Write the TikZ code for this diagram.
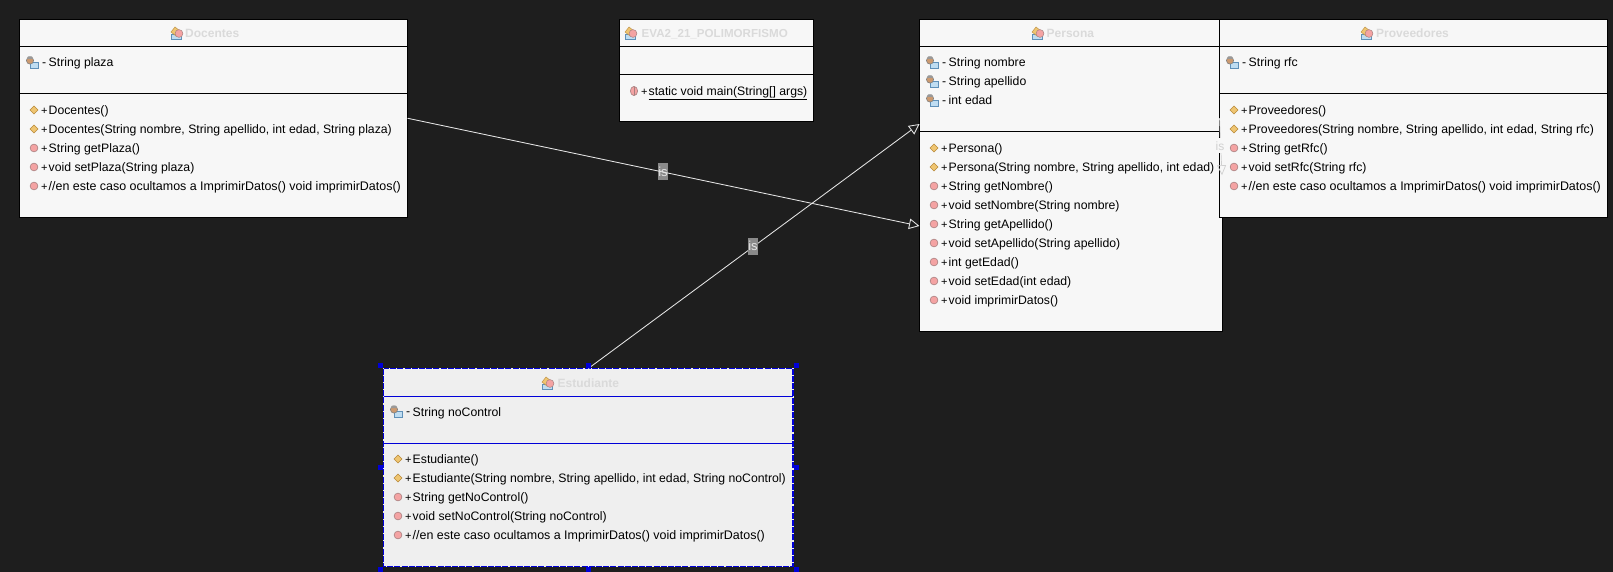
\documentclass[tikz,border=0pt]{standalone}
\usepackage{fontspec}
\setmainfont{Liberation Sans}
\usetikzlibrary{arrows.meta}
\definecolor{bgd}{HTML}{1E1E1E}
\definecolor{boxf}{HTML}{F7F7F7}
\definecolor{boxs}{HTML}{EFEFEF}
\definecolor{hdr}{HTML}{DADADA}
\definecolor{faint}{HTML}{D0D0D0}
\definecolor{sel}{HTML}{0000D8}
\definecolor{lbl}{HTML}{8A8A8A}
\definecolor{gold}{HTML}{EFC571}
\definecolor{goldd}{HTML}{B8893A}
\definecolor{pinkm}{HTML}{F4A3A3}
\definecolor{pinkd}{HTML}{A88080}
\definecolor{blueic}{HTML}{BFDDF2}
\definecolor{blued}{HTML}{5F90B8}
\definecolor{brownic}{HTML}{CC9A70}
\newcommand{\sgnp}{\makebox[7.5pt][l]{\fontsize{11}{14}\selectfont\raisebox{0.3pt}{+}}}
\newcommand{\sgnm}{\makebox[6.5pt][l]{\raisebox{0.4pt}{-}}}
\tikzset{
 x=1pt,y=-1pt,
 umlbox/.style={draw=black,fill=boxf,line width=1pt,outer sep=0pt,inner sep=0pt,anchor=north west},
 selbox/.style={draw=boxs,fill=boxs,line width=1pt,outer sep=0pt,inner sep=0pt,anchor=north west},
 mem/.style={anchor=base west,inner sep=0pt,font=\fontsize{12.25}{14}\selectfont,text=black},
 memw/.style={mem,font=\fontsize{12.45}{14}\selectfont},
 title/.style={anchor=base west,inner sep=0pt,font=\fontsize{12}{14}\selectfont\bfseries,text=hdr},
 link/.style={draw=white!90!black,line width=0.85pt,-{Triangle[open,length=10.5pt,width=10.5pt,fill=none]}},
 islabel/.style={fill=lbl,text=white!90!black,inner sep=0pt,minimum width=10pt,minimum height=17pt,font=\fontsize{13}{13}\selectfont},
 handle/.style={fill=sel,draw=none,minimum size=5.4pt,inner sep=0pt,outer sep=0pt,anchor=center}
}
\newcommand{\ctor}[2]{\fill[gold,draw=goldd,line width=0.4pt] (#1-4,#2) -- (#1,#2-4) -- (#1+4,#2) -- (#1,#2+4) -- cycle;}
\newcommand{\meth}[2]{\fill[pinkm,draw=pinkd,line width=0.6pt] (#1,#2) circle[radius=3.9pt];}
\newcommand{\smeth}[2]{\fill[pinkm,draw=pinkd,line width=0.6pt] (#1,#2) ellipse[x radius=3.6pt,y radius=4.6pt];
 \draw[pinkd,line width=0.7pt] (#1,#2-4)--(#1,#2+4);}
\newcommand{\fieldic}[2]{\fill[blueic,draw=blued,line width=0.6pt] (#1-1,#2) rectangle (#1+7,#2+6);
 \fill[brownic,draw=gray,line width=0.6pt] (#1-1,#2-1.5) circle[radius=3.6pt];
 \fill[gray!80] (#1-4,#2-3) -- (#1-3,#2-5.5) -- (#1+1,#2-5.5) -- (#1+2,#2-3) -- cycle;}
\newcommand{\classic}[2]{\fill[blueic,draw=blued,line width=0.5pt] (#1-6,#2+1) -- (#1+4,#2+1) -- (#1+4,#2+6) -- (#1-6,#2+6) -- cycle;
 \fill[gold,draw=goldd,line width=0.4pt] (#1-6,#2-1) -- (#1-2,#2-6) -- (#1+3,#2-2) -- (#1-1,#2+3) -- cycle;
 \fill[pinkm,draw=pinkd,line width=0.5pt] (#1+2,#2+0.5) circle[radius=3.9pt];}
\begin{document}
\begin{tikzpicture}
\useasboundingbox (0,0) rectangle (1613,572);
\fill[bgd] (0,0) rectangle (1613,572);
% boxes
\node[umlbox,minimum width=388pt,minimum height=197.5pt] (doc) at (19.5,19.5) {};
\node[umlbox,minimum width=193.5pt,minimum height=102.5pt] (eva) at (619.5,19.5) {};
\node[umlbox,minimum width=302.5pt,minimum height=311.5pt] (per) at (919.5,19.5) {};
\node[selbox,minimum width=409.5pt,minimum height=198pt] (est) at (383.5,368.5) {};
\draw[sel,line width=1.2pt,dash pattern=on 6pt off 1.2pt] (est.north west) rectangle (est.south east);
\draw[line width=1pt] (19.5,47)--(407.5,47) (19.5,94)--(407.5,94);
\draw[line width=1pt] (619.5,47)--(813,47) (619.5,75)--(813,75);
\draw[line width=1pt] (919.5,47)--(1222,47) (919.5,132)--(1222,132);
\draw[sel,line width=1pt] (383.5,396)--(793,396) (383.5,443)--(793,443);
\node[umlbox,minimum width=388pt,minimum height=197.5pt] (pro) at (1219.5,19.5) {};
\draw[line width=1pt] (1219.5,47)--(1607.5,47) (1219.5,94)--(1607.5,94);
% labels and connectors
\node[islabel] (l1) at (663,172) {is};
\draw[link] (doc.east) -- ([yshift=-50.75pt]per.west);
\draw[link] (est.north) -- ([yshift=51.25pt]per.west);
\node[islabel] (l2) at (753,246) {is};
\draw[draw=faint,line width=0.7pt,-{Triangle[open,length=10pt,width=9pt,fill=none]}] (pro.west) -- (per.east);
\node[fill=white!97!black,inner sep=0pt,minimum width=10pt,minimum height=15pt,text=faint,font=\fontsize{12}{12}\selectfont] (l3) at (1220,146) {is};
% handles
\foreach \hx/\hy [count=\i] in {380.7/365.7,588.7/365.7,796.7/365.7,380.7/467.3,796.7/467.3,380.7/569.3,588.7/569.3,796.7/569.3}
  \node[handle] (h\i) at (\hx,\hy) {};
% titles
\classic{177}{33}\node[title] (t1) at (185,38) {Docentes};
\classic{631}{33}\node[title,font=\fontsize{11.6}{14}\selectfont\bfseries] (t2) at (641.5,38) {EVA2\_21\_POLIMORFISMO};
\classic{1038}{33}\node[title] (t3) at (1046.5,38) {Persona};
\classic{1367}{33}\node[title] (t4) at (1376,38) {Proveedores};
\classic{548}{383}\node[title] (t5) at (557.5,387.5) {Estudiante};
% Docentes
\fieldic{31}{62}\node[mem] (d0) at (42,67) {\sgnm String plaza};
\ctor{34}{110}\node[mem] (d1) at (41,114.5) {\sgnp Docentes()};
\ctor{34}{129}\node[mem] (d2) at (41,133.5) {\sgnp Docentes(String nombre, String apellido, int edad, String plaza)};
\meth{34}{148}\node[mem] (d3) at (41,152.5) {\sgnp String getPlaza()};
\meth{34}{167}\node[mem] (d4) at (41,171.5) {\sgnp void setPlaza(String plaza)};
\meth{34}{186}\node[memw] (d5) at (41,190.5) {\sgnp //en este caso ocultamos a ImprimirDatos() void imprimirDatos()};
% EVA
\smeth{634}{91}\node[mem] (e1) at (641,95.5) {\sgnp\underline{static void main(String[] args)}};
% Persona
\fieldic{931}{62}\node[mem] (p0) at (942,67) {\sgnm String nombre};
\fieldic{931}{81}\node[mem] (p1) at (942,86) {\sgnm String apellido};
\fieldic{931}{100}\node[mem] (p2) at (942,105) {\sgnm int edad};
\ctor{934}{148}\node[mem] (p3) at (941,152.5) {\sgnp Persona()};
\ctor{934}{167}\node[mem] (p4) at (941,171.5) {\sgnp Persona(String nombre, String apellido, int edad)};
\meth{934}{186}\node[mem] (p5) at (941,190.5) {\sgnp String getNombre()};
\meth{934}{205}\node[mem] (p6) at (941,209.5) {\sgnp void setNombre(String nombre)};
\meth{934}{224}\node[mem] (p7) at (941,228.5) {\sgnp String getApellido()};
\meth{934}{243}\node[mem] (p8) at (941,247.5) {\sgnp void setApellido(String apellido)};
\meth{934}{262}\node[mem] (p9) at (941,266.5) {\sgnp int getEdad()};
\meth{934}{281}\node[mem] (p10) at (941,285.5) {\sgnp void setEdad(int edad)};
\meth{934}{300}\node[mem] (p11) at (941,304.5) {\sgnp void imprimirDatos()};
% Proveedores
\fieldic{1231}{62}\node[mem] (v0) at (1242,67) {\sgnm String rfc};
\ctor{1234}{110}\node[mem] (v1) at (1241,114.5) {\sgnp Proveedores()};
\ctor{1234}{129}\node[mem] (v2) at (1241,133.5) {\sgnp Proveedores(String nombre, String apellido, int edad, String rfc)};
\meth{1234}{148}\node[mem] (v3) at (1241,152.5) {\sgnp String getRfc()};
\meth{1234}{167}\node[mem] (v4) at (1241,171.5) {\sgnp void setRfc(String rfc)};
\meth{1234}{186}\node[memw] (v5) at (1241,190.5) {\sgnp //en este caso ocultamos a ImprimirDatos() void imprimirDatos()};
% Estudiante
\fieldic{395}{411}\node[mem] (s0) at (406,416) {\sgnm String noControl};
\ctor{398}{459}\node[mem] (s1) at (405,463.5) {\sgnp Estudiante()};
\ctor{398}{478}\node[mem] (s2) at (405,482.5) {\sgnp Estudiante(String nombre, String apellido, int edad, String noControl)};
\meth{398}{497}\node[mem] (s3) at (405,501.5) {\sgnp String getNoControl()};
\meth{398}{516}\node[mem] (s4) at (405,520.5) {\sgnp void setNoControl(String noControl)};
\meth{398}{535}\node[memw] (s5) at (405,539.5) {\sgnp //en este caso ocultamos a ImprimirDatos() void imprimirDatos()};
\end{tikzpicture}
\end{document}
